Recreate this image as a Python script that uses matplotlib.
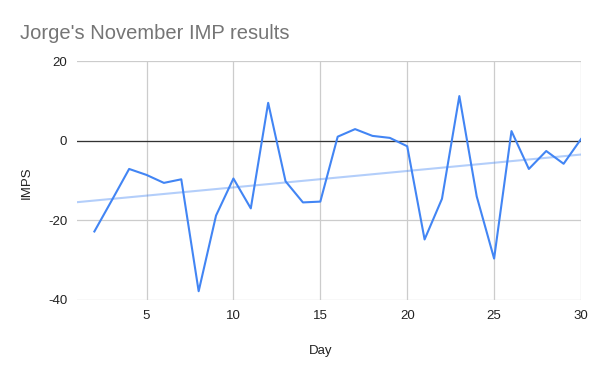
import numpy as np
import matplotlib.pyplot as plt

days = np.arange(2, 31)
imps = np.array([-22.8, -15.0, -7.1, -8.6, -10.6, -9.7, -37.8, -18.8, -9.5, -17.0,
                 9.5, -10.2, -15.5, -15.3, 1.0, 2.9, 1.2, 0.7, -1.4, -24.8,
                 -14.6, 11.2, -14.0, -29.6, 2.4, -7.1, -2.6, -5.8, 0.4])
xticks = [5, 10, 15, 20, 25, 30]
yticks = [-40, -20, 0, 20]

plt.rcParams['font.family'] = ['Liberation Sans', 'DejaVu Sans']
plt.rcParams['axes.unicode_minus'] = False

fig = plt.figure(figsize=(6, 3.71), dpi=100)
ax = fig.add_axes([77/600, 1-300/371, 504/600, 239/371])

# linear trendline over the full x range
z = np.polyfit(days, imps, 1)
tx = np.array([1, 30])
ax.plot(tx, np.polyval(z, tx), color='#4285F4', alpha=0.4, lw=1.5, zorder=2)
ax.plot(days, imps, color='#4285F4', lw=1.5, zorder=3)
ax.axhline(0, color='#333333', lw=0.9, zorder=1.5)

ax.set_xlim(1, 30)
ax.set_ylim(-40, 20)
ax.set_xticks(xticks)
ax.set_yticks(yticks)
ax.grid(True, color='#cccccc', lw=0.9, zorder=0)
ax.set_axisbelow(True)
for s in ['top', 'left', 'right', 'bottom']:
    ax.spines[s].set_visible(False)
ax.tick_params(length=0, labelsize=9.5, colors='#222222', pad=7)

ax.set_xlabel('Day', fontsize=9.5, color='#222222')
ax.set_ylabel('IMPS', fontsize=9.5, color='#222222')
ax.yaxis.set_label_coords(-0.088, 0.49)
ax.xaxis.set_label_coords(0.484, -0.19)

fig.text(20/600, 1-39/371, "Jorge's November IMP results", fontsize=14.5,
         color='#757575', ha='left', va='baseline')

plt.savefig('out.png', dpi=100)
